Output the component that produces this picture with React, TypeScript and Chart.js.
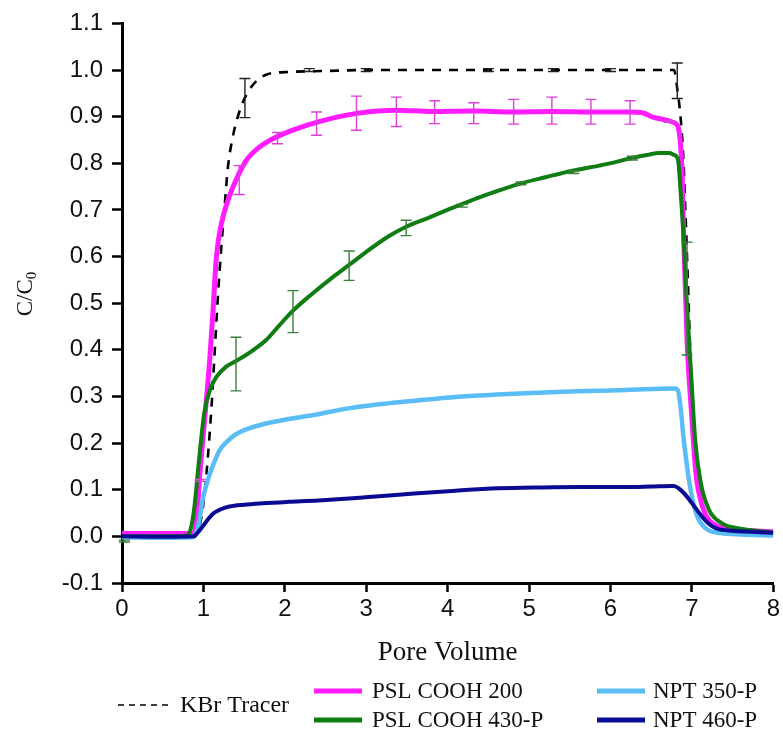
import React, { useEffect, useRef } from "react";
import { Chart, registerables } from "chart.js";

Chart.register(...registerables);

// ---- axis settings ----
const xMin = 0;
const xMax = 8;
const yMin = -0.1;
const yMax = 1.1;
const xTitle = "Pore Volume";

// ---- series: KBr Tracer ----
const kbrPV = [0, 0.5, 0.9, 0.95, 1.0, 1.05, 1.1, 1.14, 1.18, 1.22, 1.26, 1.3, 1.36, 1.46, 1.59, 1.77, 2.06, 2.5, 3.0, 4.0, 5.0, 6.0, 6.78, 6.82, 6.86, 6.89, 6.92, 6.95, 6.99, 7.05, 7.13, 7.25, 7.5, 8.0];
const kbrC = [0, 0, 0.002, 0.02, 0.07, 0.16, 0.28, 0.4, 0.52, 0.62, 0.706, 0.79, 0.856, 0.92, 0.964, 0.99, 0.996, 0.998, 1.0, 1.0, 1.0, 1.0, 1.0, 0.96, 0.9, 0.828, 0.7, 0.55, 0.35, 0.16, 0.07, 0.03, 0.015, 0.008];

// ---- series: PSL COOH 200 ----
const psl200PV = [0, 0.5, 0.88, 0.92, 0.95, 1.01, 1.08, 1.12, 1.16, 1.22, 1.3, 1.4, 1.53, 1.69, 1.89, 2.14, 2.41, 2.88, 3.37, 3.81, 4.31, 4.79, 5.28, 5.78, 6.23, 6.4, 6.52, 6.72, 6.8, 6.84, 6.88, 6.9, 6.94, 6.99, 7.05, 7.13, 7.25, 7.58, 8.0];
const psl200C = [0.006, 0.006, 0.006, 0.04, 0.12, 0.24, 0.385, 0.49, 0.6, 0.67, 0.72, 0.764, 0.807, 0.835, 0.856, 0.874, 0.889, 0.907, 0.914, 0.911, 0.912, 0.91, 0.911, 0.91, 0.91, 0.908, 0.899, 0.891, 0.885, 0.871, 0.778, 0.635, 0.42, 0.278, 0.135, 0.064, 0.028, 0.014, 0.01];

// ---- series: PSL COOH 430-P ----
const psl430PV = [0, 0.5, 0.8, 0.85, 0.89, 0.95, 1.01, 1.08, 1.16, 1.28, 1.4, 1.6, 1.77, 1.93, 2.1, 2.3, 2.59, 2.79, 3.0, 3.28, 3.49, 3.75, 3.98, 4.27, 4.55, 4.88, 5.2, 5.53, 5.86, 6.05, 6.27, 6.45, 6.6, 6.72, 6.78, 6.83, 6.86, 6.9, 6.94, 6.99, 7.04, 7.11, 7.21, 7.37, 7.58, 8.0];
const psl430C = [0, 0, 0.002, 0.02, 0.064, 0.171, 0.264, 0.314, 0.342, 0.364, 0.376, 0.398, 0.421, 0.452, 0.484, 0.515, 0.556, 0.582, 0.61, 0.644, 0.664, 0.682, 0.699, 0.719, 0.737, 0.756, 0.77, 0.784, 0.795, 0.802, 0.812, 0.818, 0.822, 0.822, 0.818, 0.807, 0.742, 0.635, 0.492, 0.35, 0.207, 0.114, 0.057, 0.028, 0.017, 0.008];

// ---- series: NPT 350-P ----
const npt350PV = [0, 0.5, 0.86, 0.91, 0.95, 0.99, 1.04, 1.08, 1.14, 1.2, 1.3, 1.4, 1.55, 1.77, 2.0, 2.41, 2.8, 3.2, 3.6, 4.1, 4.6, 5.1, 5.6, 6.2, 6.79, 6.83, 6.86, 6.9, 6.97, 7.05, 7.17, 7.36, 7.6, 8.0];
const npt350C = [-0.002, -0.003, -0.002, 0.007, 0.035, 0.078, 0.112, 0.135, 0.162, 0.185, 0.205, 0.219, 0.231, 0.242, 0.25, 0.262, 0.275, 0.284, 0.291, 0.299, 0.304, 0.308, 0.311, 0.314, 0.317, 0.312, 0.278, 0.207, 0.114, 0.05, 0.017, 0.007, 0.004, 0.002];

// ---- series: NPT 460-P ----
const npt460PV = [0, 0.5, 0.88, 0.93, 0.99, 1.05, 1.12, 1.2, 1.32, 1.5, 1.73, 2.04, 2.41, 3.07, 3.59, 4.1, 4.62, 5.14, 5.65, 6.17, 6.5, 6.76, 6.8, 7.2, 7.3, 7.5, 8.0];
const npt460C = [0, -0.001, 0, 0.008, 0.021, 0.035, 0.049, 0.057, 0.064, 0.068, 0.071, 0.074, 0.077, 0.085, 0.092, 0.098, 0.103, 0.105, 0.106, 0.106, 0.107, 0.108, 0.107, 0.028, 0.017, 0.012, 0.008];

// ---- error bars ----
const errKbrPV = [1.51, 2.3, 3.0, 4.5, 5.3, 6.0, 6.82];
const errKbrLo = [0.898, 0.997, 0.997, 0.997, 0.997, 0.997, 0.939];
const errKbrHi = [0.982, 1.003, 1.003, 1.003, 1.003, 1.003, 1.015];

const errPsl200PV = [0.96, 1.44, 1.91, 2.39, 2.88, 3.37, 3.84, 4.32, 4.81, 5.28, 5.76, 6.24, 6.72];
const errPsl200Lo = [0.118, 0.733, 0.842, 0.86, 0.871, 0.879, 0.885, 0.885, 0.884, 0.884, 0.884, 0.884, 0.888];
const errPsl200Hi = [0.122, 0.795, 0.866, 0.91, 0.944, 0.942, 0.934, 0.93, 0.937, 0.942, 0.937, 0.934, 0.891];

const errPsl430PV = [0.03, 1.4, 2.1, 2.79, 3.49, 4.18, 4.9, 5.55, 6.27, 6.94];
const errPsl430Lo = [-0.012, 0.312, 0.437, 0.549, 0.645, 0.706, 0.754, 0.778, 0.807, 0.389];
const errPsl430Hi = [-0.008, 0.427, 0.527, 0.612, 0.678, 0.712, 0.76, 0.784, 0.815, 0.631];

// ---- labels & colours ----
const labels = ["KBr Tracer", "PSL COOH 200", "PSL COOH 430-P", "NPT 350-P", "NPT 460-P"];
const colors = ["#000000", "#ff1cff", "#0f7d12", "#5bbdf6", "#0a0a93"];
const errColors = ["#222222", "#dd3fdd", "#3a7f3a"];

const toPts = (xs: number[], ys: number[]) => xs.map((x, i) => ({ x, y: ys[i] }));

const errorSets = [
  { color: errColors[0], pv: errKbrPV, lo: errKbrLo, hi: errKbrHi },
  { color: errColors[1], pv: errPsl200PV, lo: errPsl200Lo, hi: errPsl200Hi },
  { color: errColors[2], pv: errPsl430PV, lo: errPsl430Lo, hi: errPsl430Hi },
];

const SERIF = '"Liberation Serif", "Times New Roman", serif';
const SANS = '"Liberation Sans", Arial, sans-serif';

const errorBarPlugin = {
  id: "errorBars",
  afterDatasetsDraw(chart: any) {
    const { ctx, scales } = chart;
    const x = scales.x;
    const y = scales.y;
    ctx.save();
    errorSets.forEach((set) => {
      ctx.strokeStyle = set.color;
      ctx.lineWidth = 1.4;
      set.pv.forEach((p, i) => {
        const px = x.getPixelForValue(p);
        const yl = y.getPixelForValue(set.lo[i]);
        const yh = y.getPixelForValue(set.hi[i]);
        ctx.beginPath();
        ctx.moveTo(px, yl);
        ctx.lineTo(px, yh);
        ctx.moveTo(px - 5.5, yl);
        ctx.lineTo(px + 5.5, yl);
        ctx.moveTo(px - 5.5, yh);
        ctx.lineTo(px + 5.5, yh);
        ctx.stroke();
      });
    });
    ctx.restore();
  },
};

const annotationPlugin = {
  id: "titlesLegend",
  afterDraw(chart: any) {
    const { ctx, chartArea } = chart;
    ctx.save();
    ctx.fillStyle = "#111";
    // x title
    ctx.font = `27px ${SERIF}`;
    ctx.textAlign = "center";
    ctx.textBaseline = "middle";
    ctx.fillText(xTitle, (chartArea.left + chartArea.right) / 2, 653);

    // y title with subscript
    ctx.save();
    ctx.translate(24, 294);
    ctx.rotate(-Math.PI / 2);
    ctx.font = `23px ${SERIF}`;
    const main = "C/C";
    const wMain = ctx.measureText(main).width;
    ctx.font = `15px ${SERIF}`;
    const wSub = ctx.measureText("0").width;
    const total = wMain + wSub;
    ctx.textAlign = "left";
    ctx.textBaseline = "alphabetic";
    ctx.font = `23px ${SERIF}`;
    ctx.fillText(main, -total / 2, 8);
    ctx.font = `15px ${SERIF}`;
    ctx.fillText("0", -total / 2 + wMain, 12);
    ctx.restore();

    // legend
    ctx.font = `23px ${SERIF}`;
    ctx.textAlign = "left";
    ctx.textBaseline = "middle";
    const items = [
      { i: 0, lx: 118, ly: 705, tx: 180, dash: true },
      { i: 1, lx: 314, ly: 691, tx: 372, dash: false },
      { i: 2, lx: 314, ly: 720, tx: 372, dash: false },
      { i: 3, lx: 597, ly: 691, tx: 653, dash: false },
      { i: 4, lx: 597, ly: 720, tx: 653, dash: false },
    ];
    items.forEach((it) => {
      ctx.beginPath();
      ctx.strokeStyle = colors[it.i];
      if (it.dash) {
        ctx.lineWidth = 1.3;
        ctx.setLineDash([6, 5]);
        ctx.moveTo(it.lx, it.ly);
        ctx.lineTo(it.lx + 55, it.ly);
      } else {
        ctx.lineWidth = 5;
        ctx.setLineDash([]);
        ctx.moveTo(it.lx, it.ly);
        ctx.lineTo(it.lx + 48, it.ly);
      }
      ctx.stroke();
      ctx.setLineDash([]);
      ctx.fillStyle = "#111";
      ctx.font = it.i === 0 ? `24px ${SERIF}` : `23px ${SERIF}`;
      ctx.fillText(labels[it.i], it.tx, it.ly + 1);
    });
    ctx.restore();
  },
};

export default function App() {
  const ref = useRef<HTMLCanvasElement>(null);
  useEffect(() => {
    if (!ref.current) return;
    const chart = new Chart(ref.current, {
      type: "line",
      data: {
        datasets: [
          { label: labels[0], data: toPts(kbrPV, kbrC), borderColor: colors[0], borderWidth: 2.6, borderDash: [9, 8], order: 5 },
          { label: labels[1], data: toPts(psl200PV, psl200C), borderColor: colors[1], borderWidth: 5, order: 4 },
          { label: labels[2], data: toPts(psl430PV, psl430C), borderColor: colors[2], borderWidth: 4, order: 3 },
          { label: labels[3], data: toPts(npt350PV, npt350C), borderColor: colors[3], borderWidth: 4.5, order: 2 },
          { label: labels[4], data: toPts(npt460PV, npt460C), borderColor: colors[4], borderWidth: 4, order: 1 },
        ],
      },
      options: {
        responsive: false,
        animation: false,
        layout: { padding: { top: 22.7, right: 8, left: 0, bottom: 0 } },
        elements: {
          point: { radius: 0, hoverRadius: 0 },
          line: { cubicInterpolationMode: "monotone", fill: false },
        },
        plugins: { legend: { display: false }, tooltip: { enabled: false } },
        scales: {
          x: {
            type: "linear",
            min: xMin,
            max: xMax,
            ticks: { stepSize: 1, color: "#111", font: { family: SANS, size: 24 }, padding: 3 },
            grid: { display: true, drawOnChartArea: false, drawTicks: true, tickLength: 9, tickWidth: 2.5, tickColor: "#000" },
            border: { display: true, color: "#000", width: 3 },
            afterFit: (s: any) => {
              s.height = 148;
            },
          },
          y: {
            type: "linear",
            min: yMin,
            max: yMax,
            ticks: {
              stepSize: 0.1,
              color: "#111",
              font: { family: SANS, size: 24 },
              padding: 9,
              callback: (v: any) => Number(v).toFixed(1),
            },
            grid: { display: true, drawOnChartArea: false, drawTicks: true, tickLength: 10, tickWidth: 2.5, tickColor: "#000" },
            border: { display: true, color: "#000", width: 3 },
            afterFit: (s: any) => {
              s.width = 122;
            },
          },
        },
      },
      plugins: [errorBarPlugin, annotationPlugin],
    } as any);
    return () => chart.destroy();
  }, []);
  return (
    <div style={{ position: "absolute", left: 0, top: 0, width: 783, height: 731, background: "#fff" }}>
      <canvas ref={ref} width={783} height={731} style={{ display: "block" }} />
    </div>
  );
}
